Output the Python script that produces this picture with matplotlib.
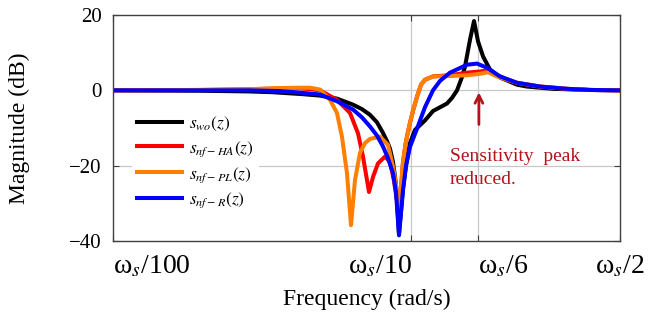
import matplotlib
matplotlib.use("Agg")
import matplotlib.pyplot as plt

plt.rcParams['font.family'] = ['Liberation Serif', 'DejaVu Serif']
plt.rcParams['mathtext.fontset'] = 'stix'

# ---- data (frequency as fraction of omega_s, magnitude in dB) ----
f_wo = [0.01, 0.01957, 0.02875, 0.03422, 0.04299, 0.04939, 0.05630, 0.06372,
        0.06830, 0.07264, 0.07667, 0.08030, 0.08283, 0.08477, 0.08675, 0.08878,
        0.09086, 0.09371, 0.09592, 0.09892,
        0.1028, 0.1110, 0.1181, 0.1316, 0.1368, 0.1422, 0.1477, 0.1512, 0.1572,
        0.1621, 0.1672, 0.1738, 0.1834, 0.1981, 0.2259, 0.2440, 0.2982, 0.3968, 0.5]
s_wo = [0, -0.1, -0.3, -0.5, -1.0, -1.4, -2.2, -3.8,
        -5.0, -6.5, -8.5, -11.3, -13.5, -15.5, -19, -25,
        -38, -26, -20, -14,
        -10.5, -8, -5.5, -3.5, -2, 0, 3.5, 6.3, 13.5,
        18.4, 13, 9, 5.5, 3.4, 1.5, 1.0, 0.4, 0.1, 0]

f_ha = [0.01, 0.01957, 0.02875, 0.03627, 0.04232, 0.04939, 0.05630, 0.06225,
        0.06622, 0.06883, 0.07209, 0.07434, 0.07727, 0.08155, 0.08477, 0.08741,
        0.09086, 0.09371, 0.09592, 0.09892, 0.1012, 0.1044, 0.1077, 0.1110,
        0.1181, 0.1347, 0.1536, 0.1698, 0.1792, 0.1935, 0.2091, 0.2259, 0.2698,
        0.3322, 0.3968, 0.5]
s_ha = [0, 0.1, 0.3, 0.5, 0.6, 0, -2.5, -6,
        -11.4, -17.6, -27, -23, -19.4, -17.6, -19, -24,
        -33, -19, -13.5, -8.6, -5.5, -1.7, 1.5, 2.8,
        3.7, 4.0, 4.7, 5.0, 5.3, 4.0, 2.9, 2, 1,
        0.4, 0.1, 0]

f_pl = [0.01, 0.01957, 0.02875, 0.03627, 0.04232, 0.04573, 0.04939, 0.05336,
        0.05630, 0.05852, 0.06083, 0.06274, 0.06471, 0.06725, 0.06990, 0.07264,
        0.07847, 0.08347, 0.08675, 0.08878, 0.09086, 0.09371, 0.09592, 0.09892,
        0.1012, 0.1044, 0.1077, 0.1110, 0.1181, 0.1347, 0.1536, 0.1698, 0.1806,
        0.1935, 0.2091, 0.2259, 0.2698, 0.3322, 0.3968, 0.5]
s_pl = [0, 0.1, 0.3, 0.6, 0.7, 0.7, 0.2, -2.5,
        -6, -12.3, -22, -35.8, -23.8, -16.6, -14, -12.9,
        -12.3, -14.5, -20.3, -25, -32, -19, -13.5, -8.6,
        -5.5, -1.7, 1.5, 2.8, 3.7, 3.8, 4.0, 4.4, 4.8,
        3.7, 2.8, 2, 1, 0.4, 0.1, 0]

f_r = [0.01, 0.01957, 0.02875, 0.03627, 0.04232, 0.04939, 0.05630, 0.06372,
       0.06830, 0.07264, 0.07667, 0.08030, 0.08347, 0.08675, 0.08878, 0.09086,
       0.09371, 0.09592, 0.09892,
       0.1052, 0.1110, 0.1181, 0.1247, 0.1347, 0.1536, 0.1659, 0.1792, 0.1981,
       0.2259, 0.2698, 0.3322, 0.3968, 0.5]
s_r = [0, 0, 0, -0.2, -0.6, -1.1, -2.9, -5.1,
       -7.2, -9.6, -12, -14.9, -18, -22, -27, -38.5,
       -26.5, -20, -15,
       -9.5, -4.5, 0, 2.5, 4.7, 6.8, 7.1, 6, 3.7,
       2, 1, 0.4, 0.1, 0]

labels = [r'$s_{wo}(z)$', r'$s_{nf-HA}(z)$', r'$s_{nf-PL}(z)$', r'$s_{nf-R}(z)$']
colors = ['black', '#ff0000', '#ff8000', '#0000ff']

xtick_vals = [0.01, 0.1, 1/6, 0.5]
xtick_labels = ['ω$_s$/100', 'ω$_s$/10', 'ω$_s$/6', 'ω$_s$/2']
ytick_vals = [-40, -20, 0, 20]
ytick_labels = ['\u221240', '\u221220', '0', '20']

# ---- figure ----
fig = plt.figure(figsize=(6.49, 3.20), dpi=100)
ax = fig.add_axes([113/649, 1-241/320, (620-113)/649, (241-15)/320])
ax.set_xscale('log')
ax.set_xlim(0.01, 0.5)
ax.set_ylim(-40, 20)

grid_c = '#c8c8c8'
ax.axhline(0, color=grid_c, lw=0.9, zorder=0)
ax.axhline(-20, color=grid_c, lw=0.9, zorder=0)
ax.axvline(0.1, color=grid_c, lw=0.9, zorder=0)
ax.axvline(1/6, color=grid_c, lw=0.9, zorder=0)

for fx, sy, lab, c in zip([f_wo, f_ha, f_pl, f_r], [s_wo, s_ha, s_pl, s_r], labels, colors):
    ax.plot(fx, sy, color=c, lw=2.9, label=lab, solid_joinstyle='round')

ax.set_xticks(xtick_vals)
ax.set_xticklabels(xtick_labels, fontsize=20)
ax.minorticks_off()
ax.set_yticks(ytick_vals)
ax.set_yticklabels(ytick_labels, fontsize=15)
ax.tick_params(axis='both', direction='in', length=4, width=0.8, color='#404040',
               top=True, right=True)
ax.tick_params(axis='y', pad=8)
ax.tick_params(axis='x', pad=9)
for t, ha in zip(ax.get_xticklabels(), ['left', 'right', 'left', 'center']):
    t.set_ha(ha)

for sp in ax.spines.values():
    sp.set_color('#404040')
    sp.set_linewidth(1.0)

ax.set_xlabel('Frequency (rad/s)', fontsize=17, labelpad=7)
ax.set_ylabel('Magnitude (dB)', fontsize=17)
ax.yaxis.set_label_coords(-0.163, 0.5)

leg = ax.legend(loc='upper left', bbox_to_anchor=(0.02, 0.62), fontsize=12.5,
                frameon=True, facecolor='white', edgecolor='none', framealpha=1,
                handlelength=2.6, labelspacing=0.36, borderpad=0.3,
                handletextpad=0.4)

dark_red = '#b5121b'
ax.annotate('', xy=(1/6 * 1.01, 0.2), xytext=(1/6 * 1.01, -9.8),
            arrowprops=dict(arrowstyle='->', color=dark_red, lw=2.0,
                            mutation_scale=14))
ax.text(0.1345, -20.6, 'Sensitivity  peak\nreduced.', color=dark_red,
        fontsize=14, ha='left', va='center', linespacing=1.4)

fig.savefig('out.png', dpi=100)
